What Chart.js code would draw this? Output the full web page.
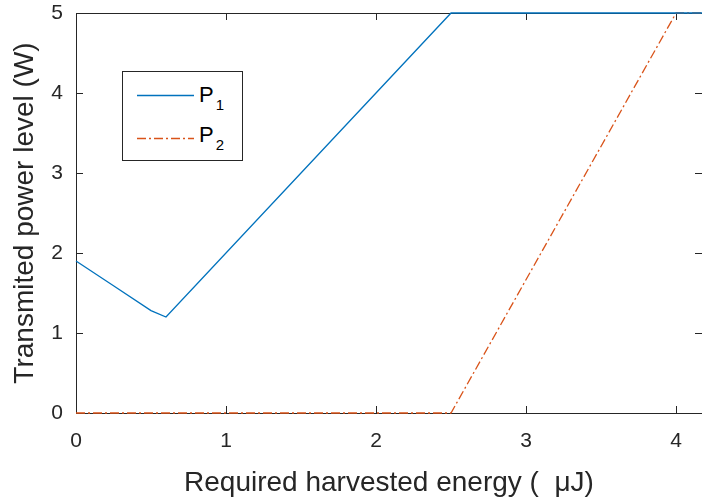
<!DOCTYPE html>
<html>
<head>
<meta charset="utf-8">
<script src="https://cdn.jsdelivr.net/npm/chart.js@4.4.0/dist/chart.umd.min.js"></script>
<style>
    body { margin: 0; background: #fff; }
    #wrap { position: relative; width: 702px; height: 502px; }
    #legendBox {
        position: absolute; left: 122px; top: 71px; width: 121px; height: 90px;
        border: 1px solid #262626; background: #fff; box-sizing: border-box;
        font-family: "Liberation Sans", Arial, sans-serif; font-size: 22px; color: #000;
    }
    .legRow { position: absolute; left: 14px; height: 24px; }
    .legRow svg { position: absolute; left: 0; top: 11px; }
    .legRow span { position: absolute; left: 62px; top: 0; line-height: 24px; white-space: nowrap; }
    .legRow sub { font-size: 15px; vertical-align: -8px; margin-left: 2px; }
</style>
</head>
<body>
<div id="wrap">
    <canvas id="myChart" width="702" height="502"></canvas>
    <div id="legendBox">
        <div class="legRow" style="top:11px">
            <svg width="58" height="3"><line x1="0" y1="1.5" x2="57" y2="1.5" stroke="#0072BD" stroke-width="1.3"/></svg>
            <span>P<sub>1</sub></span>
        </div>
        <div class="legRow" style="top:54px">
            <svg width="58" height="3"><line x1="0" y1="1.5" x2="57" y2="1.5" stroke="#D95319" stroke-width="1.3" stroke-dasharray="9,3,2,3"/></svg>
            <span style="top:-3px">P<sub>2</sub></span>
        </div>
    </div>
</div>
<script>
// values
const p1X = [0, 0.25, 0.5, 0.6, 2.5, 4.2];
const p1Y = [1.9, 1.59, 1.28, 1.2, 5, 5];
const p2X = [0, 2.5, 4.0, 4.2];
const p2Y = [0, 0, 5, 5];
const xTicks = [0, 1, 2, 3, 4];
const yTicks = [0, 1, 2, 3, 4, 5];

const AXIS = "#262626";
const FONT = "'Liberation Sans', Arial, sans-serif";

function toPoints(xs, ys) {
    return xs.map((x, i) => ({ x: x, y: ys[i] }));
}

// MATLAB style box with inward ticks, drawn under the lines
const boxPlugin = {
    id: "boxPlugin",
    beforeDatasetsDraw(chart) {
        const { ctx, chartArea: a, scales } = chart;
        ctx.save();
        ctx.strokeStyle = AXIS;
        ctx.lineWidth = 1;
        ctx.strokeRect(a.left + 0.5, a.top + 0.5, a.right - a.left, a.bottom - a.top);
        const len = 7;
        ctx.beginPath();
        xTicks.forEach((v) => {
            const px = Math.round(scales.x.getPixelForValue(v)) + 0.5;
            ctx.moveTo(px, a.bottom); ctx.lineTo(px, a.bottom - len);
            ctx.moveTo(px, a.top); ctx.lineTo(px, a.top + len);
        });
        yTicks.forEach((v) => {
            const py = Math.round(scales.y.getPixelForValue(v)) + 0.5;
            ctx.moveTo(a.left, py); ctx.lineTo(a.left + len, py);
            ctx.moveTo(a.right, py); ctx.lineTo(a.right - len, py);
        });
        ctx.stroke();
        ctx.restore();
    },
};

const ctx = document.getElementById("myChart");
new Chart(ctx, {
    type: "scatter",
    data: {
        datasets: [
            {
                label: "P1",
                data: toPoints(p1X, p1Y),
                showLine: true,
                borderColor: "#0072BD",
                borderWidth: 1.3,
                pointRadius: 0,
                tension: 0,
                clip: false,
            },
            {
                label: "P2",
                data: toPoints(p2X, p2Y),
                showLine: true,
                borderColor: "#D95319",
                borderWidth: 1.3,
                borderDash: [9, 3, 2, 3],
                pointRadius: 0,
                tension: 0,
                clip: false,
            },
        ],
    },
    options: {
        responsive: false,
        animation: false,
        layout: { padding: { top: 13, right: 0, left: 0, bottom: 0 } },
        plugins: { legend: { display: false }, tooltip: { enabled: false } },
        scales: {
            x: {
                type: "linear",
                min: 0,
                max: 4.173,
                afterFit: (s) => {
                    s.height = 89;
                    s.paddingLeft = 0;
                    s.paddingRight = 0;
                },
                afterBuildTicks: (s) => { s.ticks = xTicks.map((v) => ({ value: v })); },
                grid: { display: false, drawTicks: false },
                border: { display: false },
                ticks: { color: AXIS, font: { family: FONT, size: 21 }, padding: 16 },
                title: {
                    display: true,
                    text: "Required harvested energy (  \u03bcJ)",
                    color: AXIS,
                    font: { family: FONT, size: 28 },
                    padding: { top: 0, bottom: 2 },
                },
            },
            y: {
                min: 0,
                max: 5,
                afterFit: (s) => {
                    s.width = 76;
                    s.paddingTop = 0;
                    s.paddingBottom = 0;
                },
                afterBuildTicks: (s) => { s.ticks = yTicks.map((v) => ({ value: v })); },
                grid: { display: false, drawTicks: false },
                border: { display: false },
                ticks: { color: AXIS, font: { family: FONT, size: 21 }, padding: 13 },
                title: {
                    display: true,
                    text: "Transmited power level (W)",
                    color: AXIS,
                    font: { family: FONT, size: 28 },
                    padding: { top: 8, bottom: 0 },
                },
            },
        },
    },
    plugins: [boxPlugin],
});
</script>
</body>
</html>
